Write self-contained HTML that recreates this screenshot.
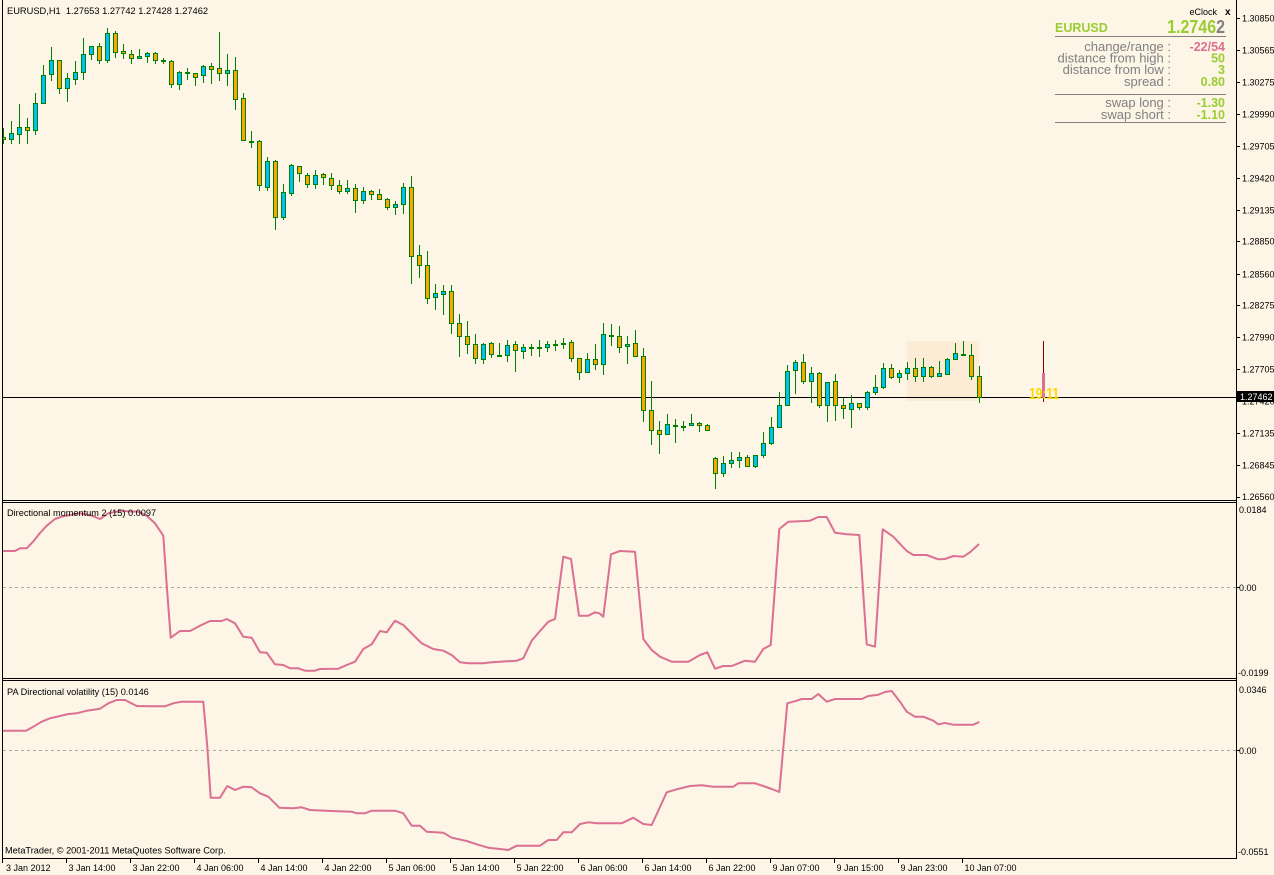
<!DOCTYPE html>
<html><head><meta charset="utf-8">
<style>
html,body{margin:0;padding:0;background:#FDF5E6;}
svg{display:block;font-family:"Liberation Sans",Arial,sans-serif;}
</style></head><body>
<svg width="1274" height="875" viewBox="0 0 1274 875" xmlns="http://www.w3.org/2000/svg">
<rect width="1274" height="875" fill="#FDF5E6"/>
<defs><clipPath id="mc"><rect x="3" y="0" width="1233" height="500"/></clipPath></defs>

<!-- highlight box -->
<rect x="907" y="341" width="72" height="60" fill="#FCEBD5"/>
<!-- bid line -->
<line x1="3" y1="397.5" x2="1236" y2="397.5" stroke="#000" stroke-width="1"/>

<g id="candles" clip-path="url(#mc)" shape-rendering="crispEdges"></g>

<!-- title -->
<text x="7" y="14" font-size="9.3" fill="#000" style="white-space:pre">EURUSD,H1  1.27653 1.27742 1.27428 1.27462</text>

<!-- clock bar & text -->
<rect x="1043" y="341" width="1" height="61" fill="#800000" shape-rendering="crispEdges"/>
<rect x="1042" y="373" width="3" height="25" fill="#DB7093" shape-rendering="crispEdges"/>
<text transform="translate(1029,399) scale(1,1.3)" x="0" y="0" font-size="12" font-weight="bold" fill="#FFD700">19:11</text>

<!-- eClock panel -->
<text x="1217" y="15" font-size="9" text-anchor="end" fill="#000">eClock</text>
<text x="1225" y="15" font-size="10" font-weight="bold" fill="#000">x</text>
<text x="1055" y="32" font-size="12.5" font-weight="bold" fill="#9ACD32">EURUSD</text>
<text transform="translate(1225,33) scale(1,1.15)" x="0" y="0" font-size="16" font-weight="bold" text-anchor="end" fill="#9ACD32">1.2746<tspan fill="#808080">2</tspan></text>
<line x1="1055" y1="36.5" x2="1226" y2="36.5" stroke="#808080"/>
<g font-size="13" fill="#808080" text-anchor="end">
<text x="1171" y="51">change/range :</text>
<text x="1171" y="62.5">distance from high :</text>
<text x="1171" y="74">distance from low :</text>
<text x="1171" y="86">spread :</text>
<text x="1171" y="107">swap long :</text>
<text x="1171" y="119">swap short :</text>
</g>
<g font-size="12.5" font-weight="bold" text-anchor="end" fill="#9ACD32">
<text x="1225" y="51" fill="#DB7093">-22/54</text>
<text x="1225" y="62.5">50</text>
<text x="1225" y="74">3</text>
<text x="1225" y="86">0.80</text>
<text x="1225" y="107">-1.30</text>
<text x="1225" y="119">-1.10</text>
</g>
<line x1="1055" y1="94.5" x2="1226" y2="94.5" stroke="#808080"/>
<line x1="1055" y1="122.5" x2="1226" y2="122.5" stroke="#808080"/>

<!-- indicator panes -->
<line x1="3" y1="587.5" x2="1236" y2="587.5" stroke="#A9A9A9" stroke-dasharray="3,3"/>
<line x1="3" y1="750.5" x2="1236" y2="750.5" stroke="#A9A9A9" stroke-dasharray="3,3"/>
<polyline fill="none" stroke="#DB7093" stroke-width="2" stroke-linejoin="round" points="2.7,551 15,551 20,548.3 26.7,548.3 33,541.7 40,533 46.7,525.7 55,519 61.7,516.7 70,515 80,513.3 90,515 100,519 108.3,513.3 120,511 138.3,511.7 146.7,515.7 155,523.3 163.3,535.7 166.7,585 170.7,637.7 180,631 190,631 200,625.7 210,621 221.7,621 226.7,619 235,623.3 243.3,636.7 251.7,637.7 260,652.3 266.7,652.7 275,664.3 283.3,665 290,668.3 298.3,668.3 305,670.7 315,670.7 320,669 338.3,668.7 346.7,665 355,661.7 363.3,649 371.7,644.3 380,631 386.7,632.3 395,620.7 403.3,625 415,636.7 421.7,643.3 433.3,649 443.3,650.7 451.7,655 460,662.3 468.3,663.3 483.3,663.3 491.7,662.3 500,661.7 516.7,660.7 523.3,658.3 531.7,640.7 540,631 548.3,621.7 555,619 563.3,556.7 571,559 579,615.7 588.3,615.7 595,612.3 599.3,613.3 603.3,616.7 611,554.3 620,551 635,551.7 643.3,639 651.7,650 660,656.7 671.7,661.7 688.3,661.7 700,655 707.3,652.3 715,668.7 723.3,666 731.7,666 745,660.7 755,661.7 763.3,649 770.7,645 779.3,529 788.3,521.7 810,520.7 818.3,517 826.7,517 835,532.7 846.7,534.3 859.3,535 866.7,644.3 875,646.7 882.7,529.3 893.3,536.7 906.7,551 913.3,555 926.7,555 938.3,559.3 945,559 953.3,556 963.3,556.7 970,552.3 979,544"/>
<polyline fill="none" stroke="#DB7093" stroke-width="2" stroke-linejoin="round" points="2.7,730.7 26,730.7 33.3,726.7 41.7,721.7 50,718.3 60,716 68.3,714 76.7,713.3 86.7,710.7 100,708.7 108.3,703.3 116.7,700 125,700 136.7,706 150,706.3 165,706.3 173.3,703.3 181.7,701.7 203.3,701.7 207.3,746.7 210.7,797.7 220,797.7 227.3,786 235,790 243.3,786.7 251.7,787.3 260,793.3 268.3,796.7 279.3,807.7 293.3,808.3 301.7,807.3 310,810 331.7,811 351.7,811.7 356.7,813.3 365,813.3 371.7,810.7 395,810.7 403.3,813.3 411.7,825.7 420,825.7 426.7,831.7 443.3,832.7 451.7,837.7 466.7,841 476.7,844.3 488.3,847.7 500,849 508.3,850 516.7,845.7 540,845.7 548.3,840 556.7,840 563.3,832.3 571.7,832.3 580,824 588.3,822.3 596.7,823.3 621.7,823.3 633.3,817.7 643.3,824 651.7,825 666.7,792.3 676.7,789.3 690,786 701.7,785.3 713.3,786.7 733.3,786.7 738.3,783.3 755,783.3 763.3,786 771.7,789 779.3,792 787.3,703.3 796.7,700.7 801.7,699 811.7,699 818.3,694 826.7,701.7 835,699 861.7,699 868.3,696 878.3,694.7 885,692 891.7,691 900,701.7 906.7,711.7 915,716.7 923.3,716.7 933.3,720.7 938.3,724.3 945,723 953.3,724.7 973.3,724.7 979.3,722"/>
<text x="7" y="516" font-size="9.2" fill="#000">Directional momentum 2 (15) 0.0097</text>
<text x="7" y="695" font-size="9.2" fill="#000">PA Directional volatility (15) 0.0146</text>
<text x="5" y="853.5" font-size="9.2" fill="#000">MetaTrader, © 2001-2011 MetaQuotes Software Corp.</text>

<!-- frames -->
<g stroke="#000" stroke-width="1" shape-rendering="crispEdges">
<line x1="2.5" y1="0" x2="2.5" y2="859"/>
<line x1="1236.5" y1="0" x2="1236.5" y2="859"/>
<line x1="2" y1="500.5" x2="1237" y2="500.5"/>
<line x1="2" y1="502.5" x2="1237" y2="502.5"/>
<line x1="2" y1="678.5" x2="1237" y2="678.5"/>
<line x1="2" y1="680.5" x2="1237" y2="680.5"/>
<line x1="2" y1="858.5" x2="1237" y2="858.5"/>
<line x1="1236" y1="18.5" x2="1240" y2="18.5"/>
<line x1="1236" y1="50.5" x2="1240" y2="50.5"/>
<line x1="1236" y1="82.5" x2="1240" y2="82.5"/>
<line x1="1236" y1="114.5" x2="1240" y2="114.5"/>
<line x1="1236" y1="146.5" x2="1240" y2="146.5"/>
<line x1="1236" y1="178.5" x2="1240" y2="178.5"/>
<line x1="1236" y1="210.5" x2="1240" y2="210.5"/>
<line x1="1236" y1="241.5" x2="1240" y2="241.5"/>
<line x1="1236" y1="274.5" x2="1240" y2="274.5"/>
<line x1="1236" y1="305.5" x2="1240" y2="305.5"/>
<line x1="1236" y1="337.5" x2="1240" y2="337.5"/>
<line x1="1236" y1="369.5" x2="1240" y2="369.5"/>
<line x1="1236" y1="401.5" x2="1240" y2="401.5"/>
<line x1="1236" y1="433.5" x2="1240" y2="433.5"/>
<line x1="1236" y1="465.5" x2="1240" y2="465.5"/>
<line x1="1236" y1="497.5" x2="1240" y2="497.5"/>
<line x1="1236" y1="587.5" x2="1240" y2="587.5"/>
<line x1="1236" y1="750.5" x2="1240" y2="750.5"/>
<line x1="2.5" y1="858" x2="2.5" y2="863"/>
<line x1="66.5" y1="858" x2="66.5" y2="863"/>
<line x1="130.5" y1="858" x2="130.5" y2="863"/>
<line x1="194.5" y1="858" x2="194.5" y2="863"/>
<line x1="258.5" y1="858" x2="258.5" y2="863"/>
<line x1="322.5" y1="858" x2="322.5" y2="863"/>
<line x1="386.5" y1="858" x2="386.5" y2="863"/>
<line x1="450.5" y1="858" x2="450.5" y2="863"/>
<line x1="514.5" y1="858" x2="514.5" y2="863"/>
<line x1="578.5" y1="858" x2="578.5" y2="863"/>
<line x1="642.5" y1="858" x2="642.5" y2="863"/>
<line x1="706.5" y1="858" x2="706.5" y2="863"/>
<line x1="770.5" y1="858" x2="770.5" y2="863"/>
<line x1="834.5" y1="858" x2="834.5" y2="863"/>
<line x1="898.5" y1="858" x2="898.5" y2="863"/>
<line x1="962.5" y1="858" x2="962.5" y2="863"/>
</g>

<!-- price labels -->
<g font-size="9" fill="#000">
<text x="1242" y="21.5">1.30850</text>
<text x="1242" y="53.5">1.30565</text>
<text x="1242" y="85.5">1.30275</text>
<text x="1242" y="117.5">1.29990</text>
<text x="1242" y="149.5">1.29705</text>
<text x="1242" y="181.5">1.29420</text>
<text x="1242" y="213.5">1.29135</text>
<text x="1242" y="244.5">1.28850</text>
<text x="1242" y="277.5">1.28560</text>
<text x="1242" y="308.5">1.28275</text>
<text x="1242" y="340.5">1.27990</text>
<text x="1242" y="372.5">1.27705</text>
<text x="1242" y="404.5">1.27420</text>
<text x="1242" y="436.5">1.27135</text>
<text x="1242" y="468.5">1.26845</text>
<text x="1242" y="500">1.26560</text>
<text x="1239" y="513">0.0184</text>
<text x="1239" y="591">0.00</text>
<text x="1238" y="676">-0.0199</text>
<text x="1239" y="693">0.0346</text>
<text x="1239" y="754">0.00</text>
<text x="1238" y="855">-0.0551</text>
</g>
<rect x="1237" y="391" width="37" height="11" fill="#000"/>
<text x="1240" y="400" font-size="9" fill="#fff">1.27462</text>

<!-- time labels -->
<g font-size="9" fill="#000">
<text x="6" y="871">3 Jan 2012</text>
<text x="68.5" y="871">3 Jan 14:00</text>
<text x="132.5" y="871">3 Jan 22:00</text>
<text x="196.5" y="871">4 Jan 06:00</text>
<text x="260.5" y="871">4 Jan 14:00</text>
<text x="324.5" y="871">4 Jan 22:00</text>
<text x="388.5" y="871">5 Jan 06:00</text>
<text x="452.5" y="871">5 Jan 14:00</text>
<text x="516.5" y="871">5 Jan 22:00</text>
<text x="580.5" y="871">6 Jan 06:00</text>
<text x="644.5" y="871">6 Jan 14:00</text>
<text x="708.5" y="871">6 Jan 22:00</text>
<text x="772.5" y="871">9 Jan 07:00</text>
<text x="836.5" y="871">9 Jan 15:00</text>
<text x="900.5" y="871">9 Jan 23:00</text>
<text x="964.5" y="871">10 Jan 07:00</text>
</g>
</svg>
<script>
const D=[
[128,143,137,139,'o'],[121,143,133,139,'b'],[104,143,127,134,'b'],[118,143,127,130,'o'],[93,134,103,130,'b'],
[65,103,75,103,'b'],[47,80,60,74,'b'],[60,93,60,88,'o'],[73,101,78,88,'b'],[61,84,72,79,'b'],
[38,79,54,72,'b'],[46,59,46,54,'b'],[43,63,46,60,'o'],[28,62,33,60,'b'],[31,57,33,52,'o'],
[44,58,51,53,'o'],[50,63,54,58,'o'],[49,58,56,58,'b'],[52,62,53,56,'b'],[52,63,53,60,'o'],
[58,63,60,60,'d'],[60,87,61,84,'o'],[71,89,72,84,'b'],[68,79,72,72,'d'],[73,85,73,77,'o'],
[65,82,66,75,'b'],[63,83,66,69,'o'],[32,80,68,73,'o'],[54,85,70,73,'b'],[57,109,70,99,'o'],
[93,140,98,140,'o'],[131,147,141,141,'d'],[140,190,141,185,'o'],[157,190,161,187,'b'],[160,229,161,217,'o'],
[184,219,192,217,'b'],[164,195,165,193,'b'],[166,181,166,173,'o'],[173,187,175,184,'o'],[170,188,175,184,'b'],
[173,184,174,177,'o'],[173,189,178,185,'o'],[180,193,185,191,'o'],[180,193,188,191,'b'],[184,212,188,200,'o'],
[187,203,191,200,'b'],[190,199,191,194,'o'],[189,199,194,199,'o'],[198,209,199,207,'o'],[201,214,204,207,'b'],
[183,213,187,204,'b'],[176,283,187,256,'o'],[245,277,255,265,'o'],[251,303,265,298,'o'],[284,309,293,297,'b'],
[285,314,291,294,'b'],[285,333,291,323,'o'],[314,356,323,336,'o'],[321,353,336,344,'o'],[334,363,344,358,'o'],
[343,363,344,359,'b'],[342,357,343,354,'o'],[343,355,355,355,'d'],[340,361,345,355,'b'],[341,371,344,350,'o'],
[344,358,347,351,'b'],[344,355,347,347,'d'],[340,356,347,347,'d'],[341,351,344,347,'b'],[340,350,344,344,'d'],
[338,348,343,343,'d'],[340,361,342,358,'o'],[358,379,358,372,'o'],[353,372,359,372,'b'],[344,369,359,364,'o'],
[323,374,334,364,'b'],[324,345,335,335,'d'],[326,352,336,347,'o'],[336,363,344,346,'b'],[330,356,343,356,'o'],
[348,421,356,410,'o'],[381,444,410,430,'o'],[421,453,430,434,'o'],[414,434,424,434,'b'],[419,442,425,425,'d'],
[421,430,426,426,'d'],[414,425,423,425,'b'],[422,431,423,425,'o'],[424,430,425,430,'o'],[457,488,458,473,'o'],
[456,476,463,473,'b'],[452,467,460,463,'b'],[452,467,457,460,'b'],[455,466,457,466,'o'],[455,467,455,466,'b'],
[432,457,443,455,'b'],[417,444,427,443,'b'],[392,427,405,427,'b'],[365,405,371,405,'b'],[360,393,362,370,'b'],
[354,383,362,381,'o'],[367,402,373,381,'b'],[372,407,373,405,'o'],[382,421,382,405,'b'],[374,420,381,405,'o'],
[398,418,405,408,'o'],[395,427,403,409,'b'],[403,409,403,407,'o'],[391,409,392,407,'b'],[375,394,387,392,'b'],
[363,388,368,387,'b'],[364,378,368,377,'o'],[370,382,373,377,'b'],[362,379,368,373,'b'],[358,381,368,376,'o'],
[358,381,367,376,'b'],[366,377,367,376,'o'],[361,376,373,376,'b'],[358,374,359,374,'b'],[343,359,353,359,'b'],
[341,355,354,354,'d'],[344,379,355,376,'o'],[366,402,376,397,'o']
];
let s='';
D.forEach(function(c,i){
  var px=3+8*i,H=c[0],L=c[1],t=c[2],b=c[3],k=c[4];
  s+='<rect x="'+px+'" y="'+H+'" width="1" height="'+(L-H+1)+'" fill="#008000"/>';
  if(k==='d'){
    s+='<rect x="'+(px-2)+'" y="'+t+'" width="5" height="2" fill="#008000"/>';
  } else {
    s+='<rect x="'+(px-2)+'" y="'+t+'" width="5" height="'+(b-t+1)+'" fill="#008000"/>';
    if(b-t-1>0) s+='<rect x="'+(px-1)+'" y="'+(t+1)+'" width="3" height="'+(b-t-1)+'" fill="'+(k==='b'?'#00BFFF':'#FFA500')+'"/>';
  }
});
document.getElementById('candles').innerHTML=s;
</script>
</body></html>
